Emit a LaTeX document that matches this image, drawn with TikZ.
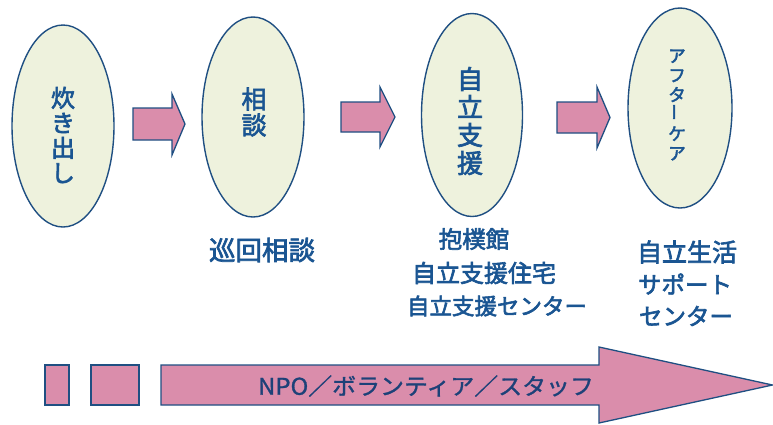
\documentclass[tikz,border=0pt]{standalone}
\usepackage{fontspec}
\usepackage{graphicx}
\usetikzlibrary{shapes.geometric}
\newfontfamily\jp[FakeBold=2.6]{Noto Sans CJK JP}
\newfontfamily\jpn[FakeBold=1.2]{Noto Sans CJK JP}
\definecolor{edge}{HTML}{1F4F82}
\definecolor{txt}{HTML}{1A5592}
\definecolor{txtd}{HTML}{1D4178}
\definecolor{cream}{HTML}{EEF2DD}
\definecolor{pinkf}{HTML}{DA8DAB}
\tikzset{
  bubble/.style={ellipse, draw=edge, line width=1.4pt, fill=cream, inner sep=0pt},
  blockarrow/.style={draw=edge, line width=1.3pt, fill=pinkf, line join=miter},
  vtext/.style={text=txt, align=center, inner sep=0pt},
  htext/.style={text=txt, align=center, inner sep=0pt},
}
\newcommand{\fs}[1]{\jp\fontsize{#1}{#1}\selectfont}
\begin{document}
\begin{tikzpicture}[x=1pt,y=-1pt]
\useasboundingbox (0,0) rectangle (773,424);
% ellipses
\node[bubble, minimum width=102pt, minimum height=202pt] (e1) at (63,126) {};
\node[bubble, minimum width=102pt, minimum height=200pt] (e2) at (253,117) {};
\node[bubble, minimum width=101pt, minimum height=203pt] (e3) at (472,115) {};
\node[bubble, minimum width=104pt, minimum height=200pt] (e4) at (680,108) {};
% vertical texts
\node[vtext, font=\jp\fontsize{24}{25}\selectfont] (t1) at (63,135) {炊\\き\\出\\し};
\node[vtext, font=\jp\fontsize{25}{26}\selectfont] (t2) at (254,112) {相\\談};
\node[vtext, font=\jp\fontsize{26}{28}\selectfont] (t3) at (470,121) {自\\立\\支\\援};
\node[vtext, font=\jp\fontsize{17.5}{19.5}\selectfont] (t4) at (677,105) {ア\\フ\\タ\\\rotatebox{90}{ー}\\ケ\\ア};
% block arrows between ellipses
\draw[blockarrow] (133,108) -- (172,108) -- (172,94) -- (185,124) -- (172,155) -- (172,140) -- (133,140) -- cycle;
\draw[blockarrow] (341,102) -- (380,102) -- (380,87) -- (395,117) -- (380,147) -- (380,132) -- (341,132) -- cycle;
\draw[blockarrow] (557,102) -- (597,102) -- (597,87) -- (610,117.5) -- (597,148) -- (597,133) -- (557,133) -- cycle;
% lower labels
\node[htext, font=\fs{26.5}] (l2) at (262,250) {巡回相談};
\node[htext, font=\fs{23.5}] (l3a) at (474,239) {抱樸館};
\node[htext, font=\fs{24}] (l3b) at (484,273) {自立支援住宅};
\node[htext, font=\fs{22.5}] (l3c) at (497,306) {自立支援センター};
\node[htext, font=\fs{25}] (l4a) at (687,252) {自立生活};
\node[htext, font=\fs{23.5}] (l4b) at (685,284) {サポート};
\node[htext, font=\fs{23.5}] (l4c) at (686,316) {センター};
% bottom bar
\draw[blockarrow] (45,365) rectangle (69,405);
\draw[blockarrow] (91,365) rectangle (139,405);
\draw[blockarrow] (161,365) -- (599,365) -- (599,347) -- (772.5,385) -- (599,423) -- (599,405) -- (161,405) -- cycle;
\node[text=txtd, inner sep=0pt, font=\jpn\fontsize{23}{24}\selectfont, xscale=1.04] (npo) at (426,386) {NPO／ボランティア／スタッフ};
\end{tikzpicture}
\end{document}
